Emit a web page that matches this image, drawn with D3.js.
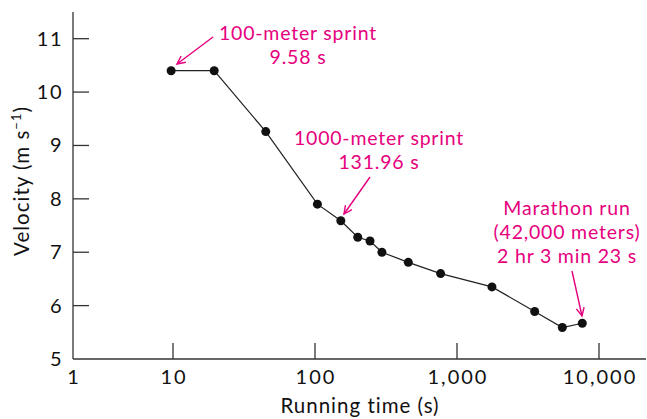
<!DOCTYPE html>
<html>
<head>
<meta charset="utf-8">
<script src="https://cdn.jsdelivr.net/npm/d3@7"></script>
<style>
  body { margin: 0; background: #fff; }
  text { font-family: Lato, "Open Sans", sans-serif; }
</style>
</head>
<body>
<svg width="647" height="419"></svg>
<script>
// world record running times vs. velocity

/* DATA */
const times = [9.58, 19.5, 45, 104, 152, 200, 244, 296, 454, 767, 1763, 3524, 5517, 7626];
const velocities = [10.4, 10.4, 9.26, 7.9, 7.59, 7.28, 7.21, 7.0, 6.81, 6.6, 6.35, 5.89, 5.59, 5.67];

const xTicks = [10, 100, 1000, 10000];
const xTickLabels = ['10', '100', '1,000', '10,000'];
const yTicks = [6, 7, 8, 9, 10, 11];

const notes = [
  { lines: ['100-meter sprint', '9.58 s'], tx: 298, ty: 40, from: [213, 37], to: [177, 64] },
  { lines: ['1000-meter sprint', '131.96 s'], tx: 379, ty: 145, from: [370, 177], to: [344, 214] },
  { lines: ['Marathon run', '(42,000 meters)', '2 hr 3 min 23 s'], tx: 567, ty: 215, from: [572, 271], to: [582, 316] }
];

const magenta = '#e6007e';

/* SCALES */
const svg = d3.select('svg');

// log axis with the 1-10 decade squeezed in
const xLin = d3.scaleLinear().domain([0, 1, 4]).range([73, 173, 599]);
const x = v => xLin(Math.log10(v));
const y = d3.scaleLinear().domain([5, 11.5]).range([359, 12]);

/* AXES */
const axes = svg.append('g').attr('stroke', '#333').attr('stroke-width', 1.3);

axes.append('line').attr('x1', 73).attr('x2', 646).attr('y1', y(5)).attr('y2', y(5));
axes.append('line').attr('x1', 73).attr('x2', 73).attr('y1', y(5)).attr('y2', y(11.5));

axes.selectAll('.xt').data(xTicks).enter().append('line')
  .attr('x1', d => x(d)).attr('x2', d => x(d))
  .attr('y1', y(5)).attr('y2', y(5) - 16);

axes.selectAll('.yt').data(yTicks).enter().append('line')
  .attr('x1', 73).attr('x2', 89)
  .attr('y1', d => y(d)).attr('y2', d => y(d));

const labels = svg.append('g').attr('fill', '#111').attr('font-size', 20);

labels.selectAll('.xl').data(['1'].concat(xTickLabels)).enter().append('text')
  .attr('x', (d, i) => (i == 0 ? 73 : x(xTicks[i - 1])) + 1)
  .attr('y', 384)
  .attr('letter-spacing', 2)
  .attr('text-anchor', 'middle')
  .text(d => d);

labels.selectAll('.yl').data([5].concat(yTicks)).enter().append('text')
  .attr('x', 63)
  .attr('y', d => y(d) + 7)
  .attr('letter-spacing', 1.5)
  .attr('text-anchor', 'end')
  .text(d => d);

labels.append('text')
  .attr('x', 360).attr('y', 413)
  .attr('font-size', 20.5)
  .attr('letter-spacing', 1)
  .attr('text-anchor', 'middle')
  .text('Running time (s)');

const yl = labels.append('text')
  .attr('transform', 'translate(29,181) rotate(-90)')
  .attr('font-size', 20.5)
  .attr('letter-spacing', 1)
  .attr('text-anchor', 'middle');
yl.append('tspan').text('Velocity (m s');
yl.append('tspan').attr('dy', -8).attr('font-size', 13).text('\u22121');
yl.append('tspan').attr('dy', 8).text(')');

/* LINE + POINTS */
const pts = times.map((t, i) => [t, velocities[i]]);

svg.append('path')
  .datum(pts)
  .attr('fill', 'none')
  .attr('stroke', '#222')
  .attr('stroke-width', 1.2)
  .attr('d', d3.line().x(d => x(d[0])).y(d => y(d[1])));

svg.selectAll('circle').data(pts).enter().append('circle')
  .attr('cx', d => x(d[0]))
  .attr('cy', d => y(d[1]))
  .attr('r', 4.5)
  .attr('fill', '#111');

/* ANNOTATIONS */
const ann = svg.append('g');

notes.forEach(n => {
  const t = ann.append('text')
    .attr('fill', magenta)
    .attr('font-size', 19.5)
    .attr('letter-spacing', 0.8)
    .attr('text-anchor', 'middle');
  n.lines.forEach((l, i) => {
    t.append('tspan').attr('x', n.tx).attr('y', n.ty + i * 24).text(l);
  });

  ann.append('line')
    .attr('x1', n.from[0]).attr('y1', n.from[1])
    .attr('x2', n.to[0]).attr('y2', n.to[1])
    .attr('stroke', magenta).attr('stroke-width', 1.4);

  // open arrow head
  const a = Math.atan2(n.to[1] - n.from[1], n.to[0] - n.from[0]),
      len = 9, spread = 0.45;
  const p1 = [n.to[0] - len * Math.cos(a - spread), n.to[1] - len * Math.sin(a - spread)],
      p2 = [n.to[0] - len * Math.cos(a + spread), n.to[1] - len * Math.sin(a + spread)];
  ann.append('path')
    .attr('d', 'M' + p1 + 'L' + n.to + 'L' + p2)
    .attr('fill', 'none')
    .attr('stroke', magenta).attr('stroke-width', 1.4);
});
</script>
</body>
</html>
